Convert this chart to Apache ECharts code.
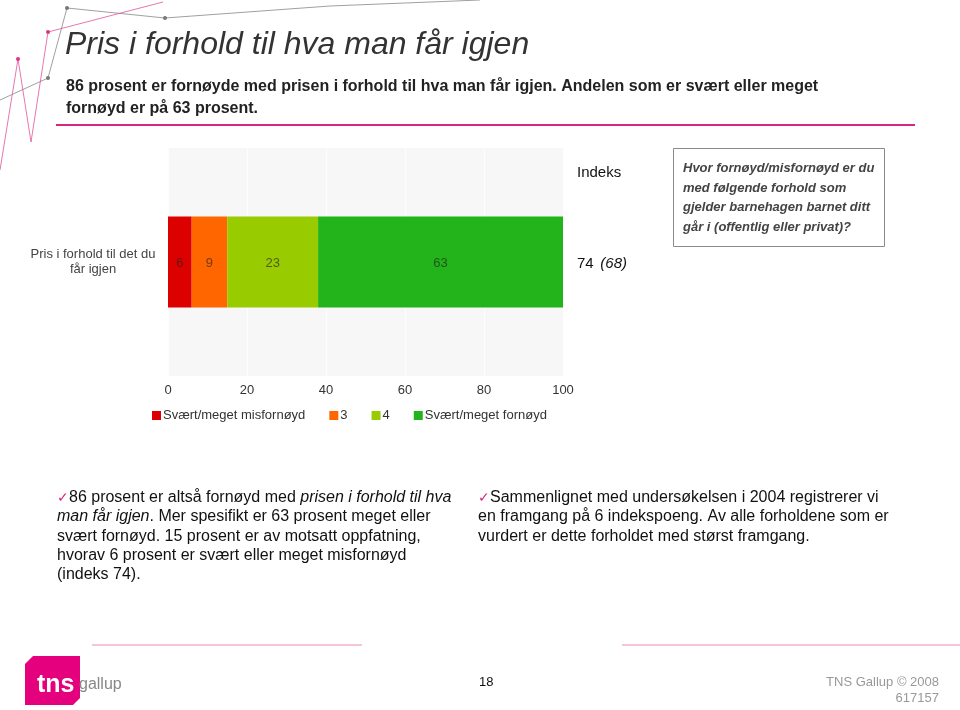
<!DOCTYPE html>
<html><head><meta charset="utf-8">
<script src="https://cdn.jsdelivr.net/npm/echarts@6/dist/echarts.min.js"></script>
<style>html,body{margin:0;padding:0;background:#fff}#c{width:960px;height:710px}</style>
</head><body><div id="c"></div>
<script>
const categories = ['Pris i forhold til det du\nfår igjen'];
const seriesNames = ['Svært/meget misfornøyd', '3', '4', 'Svært/meget fornøyd'];
const seriesValues = [[6], [9], [23], [63]];
const seriesColors = ['#dd0000', '#ff6600', '#99cc00', '#22b41a'];
const indexNow = [74];
const indexPrev = [68];
const xTicks = [0, 20, 40, 60, 80, 100];

const F = '"Liberation Sans", Arial, sans-serif';
const chart = echarts.init(document.getElementById('c'), null, {renderer: 'canvas'});

const series = seriesNames.map((n, i) => ({
  name: n, type: 'bar', stack: 'a', barWidth: '40%',
  data: seriesValues[i],
  itemStyle: {color: seriesColors[i]},
  label: {show: true, position: 'inside', fontFamily: F, fontSize: 13, color: 'rgba(35,35,35,0.65)', offset: [0, 1]}
}));

chart.setOption({
  animation: false,
  backgroundColor: '#ffffff',
  grid: {left: 168, right: 397, top: 148, bottom: 334, show: true, backgroundColor: '#f7f7f7', borderWidth: 0},
  xAxis: {
    type: 'value', min: xTicks[0], max: xTicks[xTicks.length - 1], interval: 20,
    axisLine: {show: false}, axisTick: {show: false},
    splitLine: {show: true, lineStyle: {color: '#fdfdfd', width: 1}},
    axisLabel: {fontFamily: F, fontSize: 13, color: '#333', margin: 8}
  },
  yAxis: {
    type: 'category', data: categories,
    axisLine: {show: false}, axisTick: {show: false},
    axisLabel: {fontFamily: F, fontSize: 13, color: '#444', align: 'center', margin: 75, lineHeight: 15}
  },
  legend: {
    left: 147, top: 404, itemWidth: 9, itemHeight: 9, itemGap: 24, icon: 'rect',
    textStyle: {fontFamily: F, fontSize: 13, color: '#333', padding: [0, 0, 0, -3]},
    data: seriesNames
  },
  series: series,
  graphic: [
    // decorative top-left lines
    {type: 'polyline', silent: true, shape: {points: [[0,100],[48,78],[67,8],[165,18],[330,6],[480,0]]}, style: {stroke: '#888', lineWidth: 1, fill: null, opacity: 0.8}},
    {type: 'polyline', silent: true, shape: {points: [[0,170],[18,59],[31,142],[48,32],[163,2]]}, style: {stroke: '#e0559a', lineWidth: 1, fill: null, opacity: 0.8}},
    {type: 'circle', shape: {cx: 18, cy: 59, r: 2}, style: {fill: '#e0338a'}},
    {type: 'circle', shape: {cx: 48, cy: 32, r: 2}, style: {fill: '#e0338a'}},
    {type: 'circle', shape: {cx: 67, cy: 8, r: 2}, style: {fill: '#777'}},
    {type: 'circle', shape: {cx: 165, cy: 18, r: 2}, style: {fill: '#777'}},
    {type: 'circle', shape: {cx: 48, cy: 78, r: 2}, style: {fill: '#777'}},
    // title
    {type: 'text', left: 65, top: 29, style: {text: 'Pris i forhold til hva man får igjen', font: 'italic 32px ' + F, fill: '#333'}},
    {type: 'text', left: 66, top: 76, style: {text: '86 prosent er fornøyde med prisen i forhold til hva man får igjen. Andelen som er svært eller meget\nfornøyd er på 63 prosent.', font: 'bold 16px ' + F, fill: '#222', lineHeight: 22}},
    {type: 'rect', shape: {x: 56, y: 124, width: 859, height: 2}, style: {fill: '#d9267f'}},
    // index
    {type: 'text', left: 577, top: 165, style: {text: 'Indeks', font: '15px ' + F, fill: '#111'}},
    {type: 'text', left: 577, top: 256, style: {
      text: '{n|' + indexNow[0] + '}  {p|(' + indexPrev[0] + ')}',
      rich: {n: {font: '15px ' + F, fill: '#111'}, p: {font: 'italic 15px ' + F, fill: '#111'}}}},
    // question box
    {type: 'rect', shape: {x: 673.5, y: 148.5, width: 211, height: 98}, style: {fill: '#fff', stroke: '#8a8a8a', lineWidth: 1}},
    {type: 'text', left: 683, top: 159, style: {text: 'Hvor fornøyd/misfornøyd er du\nmed følgende forhold som\ngjelder barnehagen barnet ditt\ngår i (offentlig eller privat)?', font: 'italic bold 13px ' + F, fill: '#444', lineHeight: 19.5}},
    // bullets
    {type: 'text', left: 57, top: 488, style: {
      text: '{c|✓}86 prosent er altså fornøyd med {i|prisen i forhold til hva}\n{i|man får igjen}. Mer spesifikt er 63 prosent meget eller\nsvært fornøyd. 15 prosent er av motsatt oppfatning,\nhvorav 6 prosent er svært eller meget misfornøyd\n(indeks 74).',
      font: '16px ' + F, fill: '#111', lineHeight: 19.3,
      rich: {c: {font: '14px ' + F, fill: '#d9267f', lineHeight: 19.3}, i: {font: 'italic 16px ' + F, fill: '#111', lineHeight: 19.3}}}},
    {type: 'text', left: 478, top: 488, style: {
      text: '{c|✓}Sammenlignet med undersøkelsen i 2004 registrerer vi\nen framgang på 6 indekspoeng. Av alle forholdene som er\nvurdert er dette forholdet med størst framgang.',
      font: '16px ' + F, fill: '#111', lineHeight: 19.3,
      rich: {c: {font: '14px ' + F, fill: '#d9267f', lineHeight: 19.3}}}},
    // footer
    {type: 'rect', shape: {x: 92, y: 644, width: 270, height: 2}, style: {fill: '#f3c6dc'}},
    {type: 'rect', shape: {x: 622, y: 644, width: 338, height: 2}, style: {fill: '#f3c6dc'}},
    {type: 'polygon', shape: {points: [[33,656],[80,656],[80,698],[73,705],[25,705],[25,664]], smooth: 0}, style: {fill: '#e5007e'}},
    {type: 'text', left: 37, top: 673, style: {text: 'tns', font: 'bold 25px ' + F, fill: '#fff'}},
    {type: 'text', left: 79, top: 677, style: {text: 'gallup', font: '16px ' + F, fill: '#888'}},
    {type: 'text', left: 479, top: 676, style: {text: '18', font: '13px ' + F, fill: '#111'}},
    {type: 'text', right: 21, top: 676, style: {text: 'TNS Gallup © 2008', font: '13px ' + F, fill: '#999', align: 'right'}},
    {type: 'text', right: 21, top: 692, style: {text: '617157', font: '13px ' + F, fill: '#999', align: 'right'}}
  ]
});
</script>
</body></html>
